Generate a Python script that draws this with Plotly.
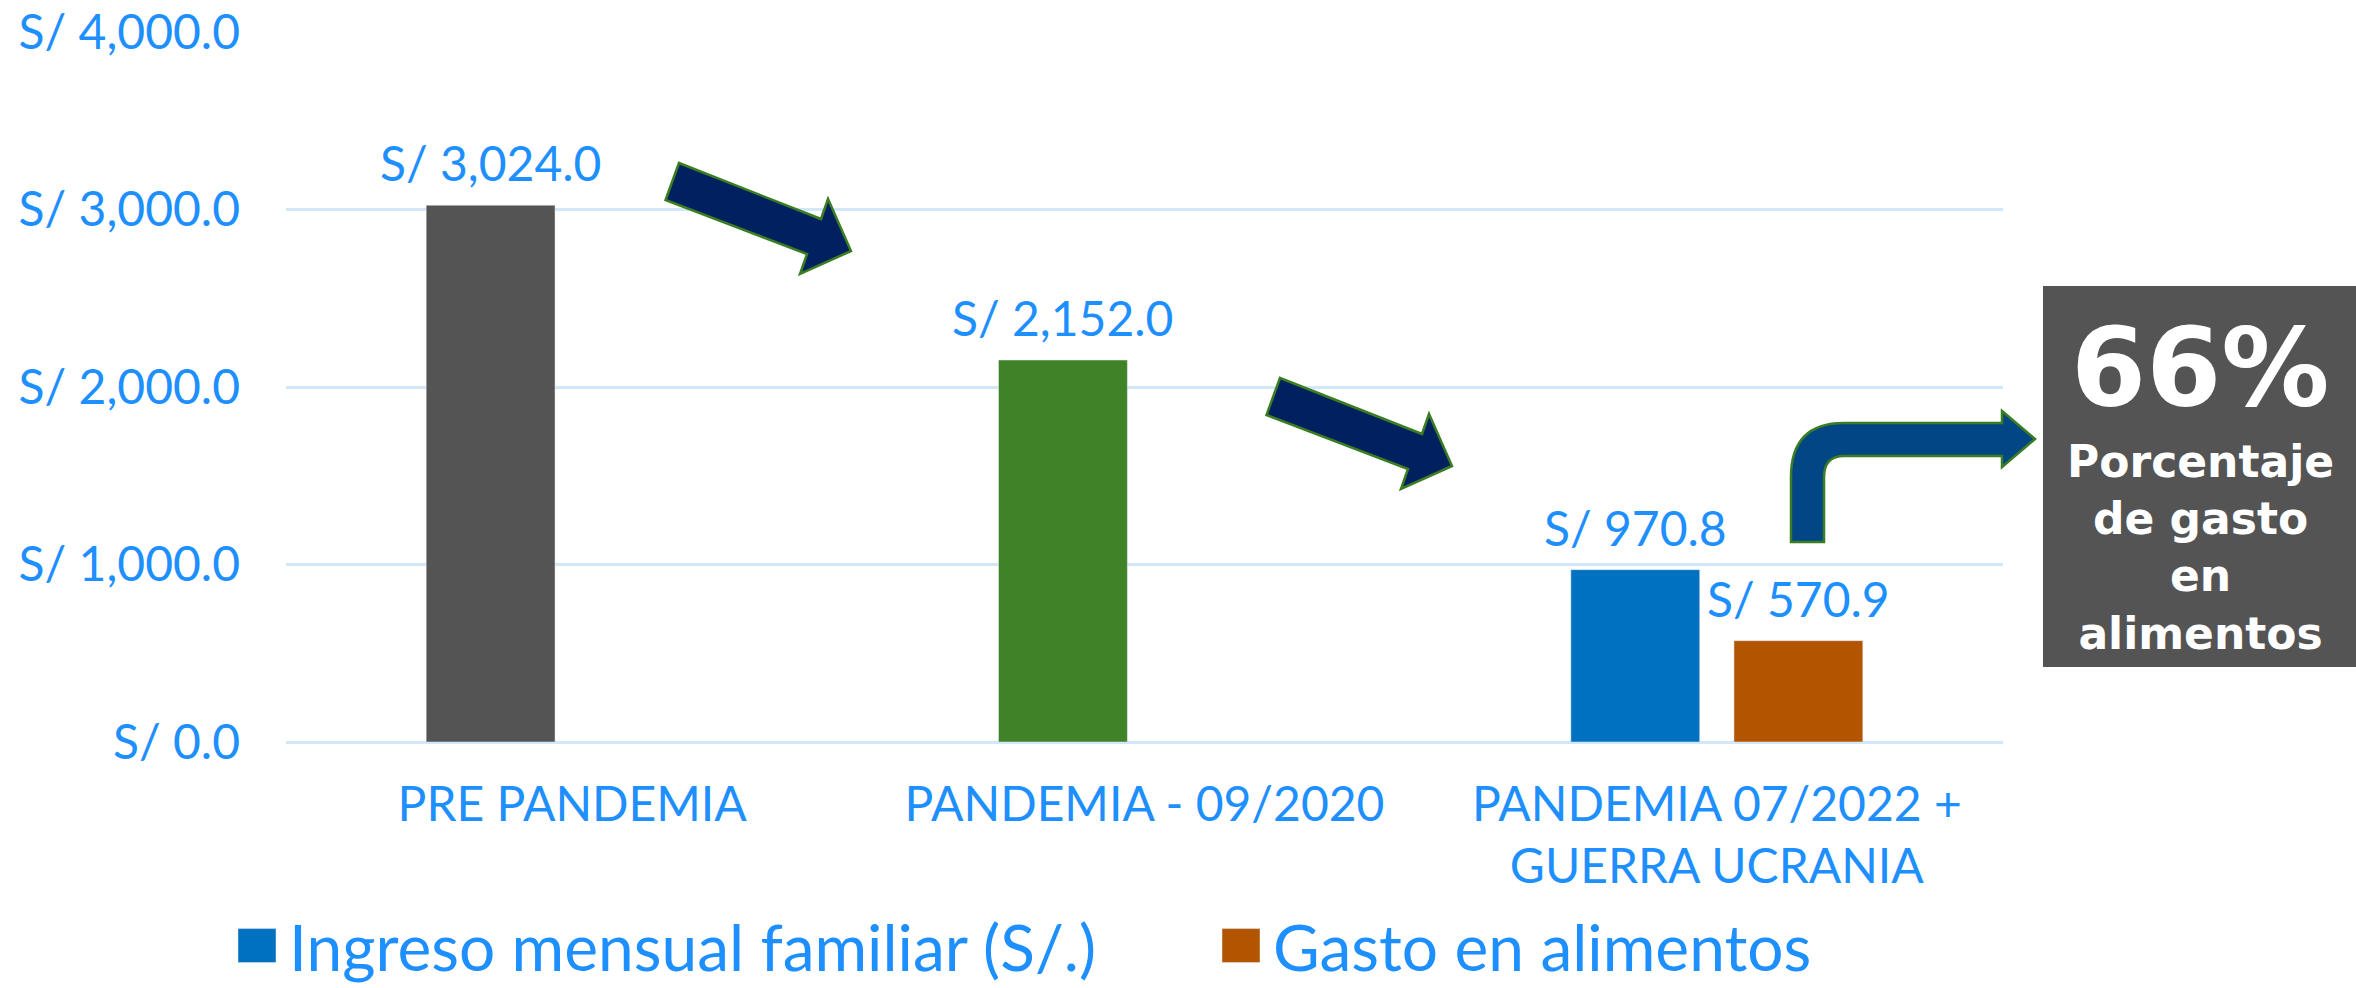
import plotly.graph_objects as go

# ---- data ----
categories = ["PRE PANDEMIA", "PANDEMIA - 09/2020", "PANDEMIA 07/2022 +<br>GUERRA UCRANIA"]
ingreso = [3024.0, 2152.0, 970.8]
gasto = [None, None, 570.9]
ingreso_colors = ["#545454", "#3F8227", "#0070C0"]
gasto_color = "#B35500"
series_names = ["Ingreso mensual familiar (S/.)", "Gasto en alimentos"]
y_ticks = [0, 1000, 2000, 3000, 4000]
highlight_pct = "66%"
highlight_text = "Porcentaje<br>de gasto<br>en<br>alimentos"

# ---- layout constants ----
W, H = 2356, 988
ML, MR, MT, MB = 286, 353, 32, 246
PW, PH = W - ML - MR, H - MT - MB
TXT = "#1E8FFF"
GRID = "#D3E7FA"
FONT = "Lato"
FS = 48
BARGAP = 0.43
BARGROUPGAP = 0.21
OFF = (1 - BARGAP) / 4  # centre offset of each slot in a 2-trace group


def px(x, y):
    return ((x - ML) / PW, (MT + PH - y) / PH)


def path(cmds):
    out = []
    for c in cmds:
        if isinstance(c, str):
            out.append(c)
        else:
            pts = []
            for i in range(0, len(c), 2):
                a, b = px(c[i], c[i + 1])
                pts.append(f"{a:.5f},{b:.5f}")
            out.append(" ".join(pts))
    return " ".join(out)


fig = go.Figure()
fig.add_trace(go.Bar(x=categories, y=ingreso, name=series_names[0], marker_color=ingreso_colors,
                     offsetgroup="a", legendgroup="a", showlegend=False))
fig.add_trace(go.Bar(x=categories, y=gasto, name=series_names[1], marker_color=gasto_color,
                     offsetgroup="b", legendgroup="b", showlegend=False))
# legend entries
fig.add_trace(go.Bar(x=[None], y=[None], name=series_names[0], marker_color=ingreso_colors[-1],
                     offsetgroup="a", legendgroup="a", showlegend=True))
fig.add_trace(go.Bar(x=[None], y=[None], name=series_names[1], marker_color=gasto_color,
                     offsetgroup="b", legendgroup="b", showlegend=True))

annotations = []
for i, v in enumerate(ingreso):
    if v is not None:
        annotations.append(dict(x=i - OFF, y=v, xref="x", yref="y", text=f"S/ {v:,.1f}",
                                showarrow=False, yanchor="bottom", yshift=12,
                                font=dict(family=FONT, size=FS, color=TXT)))
for i, v in enumerate(gasto):
    if v is not None:
        annotations.append(dict(x=i + OFF, y=v, xref="x", yref="y", text=f"S/ {v:,.1f}",
                                showarrow=False, yanchor="bottom", yshift=12,
                                font=dict(family=FONT, size=FS, color=TXT)))

bx, by = px(2200, 367)
annotations.append(dict(x=bx, y=by, xref="paper", yref="paper", text=f"<b>{highlight_pct}</b>",
                        showarrow=False, xanchor="center", yanchor="middle",
                        font=dict(family="DejaVu Sans", size=108, color="white")))
bx, by = px(2200, 547)
annotations.append(dict(x=bx, y=by, xref="paper", yref="paper", text=f"<b>{highlight_text}</b>",
                        showarrow=False, xanchor="center", yanchor="middle",
                        font=dict(family="DejaVu Sans", size=44, color="white")))

shapes = []
# grey highlight box
x0, y0 = px(2043, 667)
x1, y1 = px(2356, 286)
shapes.append(dict(type="rect", xref="paper", yref="paper", x0=x0, y0=y0, x1=x1, y1=y1,
                   fillcolor="#545454", line=dict(width=0), layer="above"))
# diagonal arrows
arrow = [(679, 163), (821, 219), (828, 199), (851, 251), (800, 274), (807, 254), (665.5, 200)]
for dx, dy in [(0, 0), (601, 215)]:
    flat = []
    for k, (a, b) in enumerate(arrow):
        flat.append("M" if k == 0 else "L")
        flat.append([a + dx, b + dy])
    flat.append("Z")
    shapes.append(dict(type="path", xref="paper", yref="paper", path=path(flat),
                       fillcolor="#002060", line=dict(color="#3B7D23", width=2.5), layer="above"))
# bent arrow
bent = ["M", [1791, 542], "L", [1791, 477], "Q", [1791, 423, 1844, 423], "L", [2002, 423],
        "L", [2002, 411], "L", [2035, 439], "L", [2002, 467], "L", [2002, 456], "L", [1844, 456],
        "Q", [1824, 456, 1824, 477], "L", [1824, 542], "Z"]
shapes.append(dict(type="path", xref="paper", yref="paper", path=path(bent),
                   fillcolor="#034685", line=dict(color="#3B7D23", width=2.5), layer="above"))

lx, ly = px(249, 946)
fig.update_layout(
    width=W, height=H, autosize=False,
    margin=dict(l=ML, r=MR, t=MT, b=MB, pad=0, autoexpand=False),
    paper_bgcolor="white", plot_bgcolor="white",
    barmode="group", bargap=BARGAP, bargroupgap=BARGROUPGAP,
    font=dict(family=FONT, color=TXT),
    xaxis=dict(type="category", categoryorder="array", categoryarray=categories,
               showgrid=False, showline=False, zeroline=False, ticks="", automargin=False,
               tickfont=dict(family=FONT, size=FS, color=TXT), ticklabelstandoff=30),
    yaxis=dict(range=[0, 4000], tickvals=y_ticks, ticktext=[f"S/ {v:,.1f}" for v in y_ticks],
               showgrid=True, gridcolor=GRID, gridwidth=2.5, zeroline=True, automargin=False,
               zerolinecolor=GRID, zerolinewidth=2.5, showline=False, ticks="",
               tickfont=dict(family=FONT, size=FS, color=TXT), ticklabelstandoff=45),
    legend=dict(orientation="h", x=lx, y=ly, xanchor="left", yanchor="middle",
                font=dict(family=FONT, size=64, color=TXT), bgcolor="rgba(0,0,0,0)",
                entrywidth=939, entrywidthmode="pixels", itemclick=False, itemdoubleclick=False),
    annotations=annotations, shapes=shapes,
    showlegend=True,
)

post = """
document.body.style.margin='0';
document.body.style.overflow='hidden';
var gd = document.getElementById('{plot_id}');
function bigIcons(){
  gd.querySelectorAll('.legend [clip-path]').forEach(function(e){
    e.removeAttribute('clip-path');
  });
  gd.querySelectorAll('.legendpoints path').forEach(function(p){
    p.setAttribute('d','M7,17H-31V-17H7Z');
  });
}
bigIcons();
gd.on('plotly_afterplot', bigIcons);
"""
fig.write_html("out.html", post_script=post, config={"displayModeBar": False})
